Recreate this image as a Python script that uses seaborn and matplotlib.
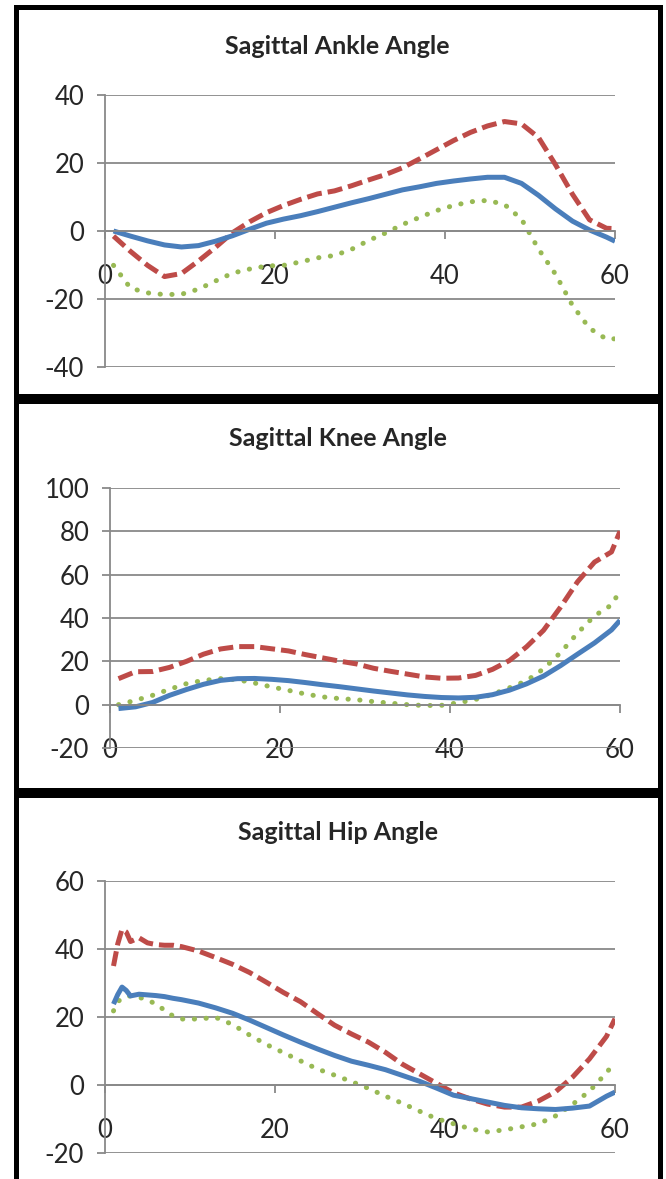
import matplotlib
matplotlib.use("Agg")
import matplotlib.pyplot as plt
from matplotlib.patches import Rectangle
import seaborn as sns

# frame numbers (x) for the ankle and knee panels, and finer ones for the hip
frames = [1, 3, 5, 7, 9, 11, 13, 15, 17, 19, 21, 23, 25, 27, 29, 31,
          33, 35, 37, 39, 41, 43, 45, 47, 49, 51, 53, 55, 57, 59, 60]
frames_hip = [1, 1.5, 2, 2.5, 3, 4, 5, 6, 7, 8, 9, 11, 13, 15, 17, 19, 21,
              23, 25, 27, 29, 31, 33, 35, 37, 39, 41, 43, 45, 47, 49, 51,
              53, 55, 57, 59, 60]

# Sagittal ankle angle
ankle_blue = [0, -1.5, -2.9, -4.1, -4.7, -4.3, -3.0, -1.4, 0.5, 2.3, 3.5, 4.5,
              5.7, 7.0, 8.3, 9.5, 10.8, 12.1, 13.0, 14.0, 14.7, 15.3, 15.8,
              15.8, 14.0, 10.5, 6.5, 2.9, 0.3, -1.8, -3.0]
ankle_red = [-1.5, -6.0, -10.1, -13.4, -12.5, -8.8, -4.8, -0.5, 2.7, 5.4, 7.5,
             9.3, 10.9, 11.8, 13.3, 15.0, 16.6, 18.6, 21.2, 23.9, 26.6, 29.0,
             30.9, 32.2, 31.5, 27.5, 19.5, 10.8, 3.3, 0.8, 0.7]
ankle_green = [-10.1, -16.8, -18.2, -18.7, -18.6, -17.1, -14.7, -12.4, -11.2,
               -10.3, -10.1, -9.1, -7.9, -7.2, -5.4, -2.8, -0.6, 1.9, 4.0, 6.0,
               7.5, 8.6, 9.0, 7.8, 3.5, -5.3, -12.7, -21.9, -28.6, -31.8, -31.7]

# Sagittal knee angle
knee_blue = [-1.8, -1.0, 1.0, 4.3, 7.0, 9.4, 11.2, 12.0, 12.1, 11.7, 11.1, 10.2,
             9.2, 8.3, 7.3, 6.3, 5.4, 4.5, 3.8, 3.3, 3.1, 3.4, 4.6, 6.7, 9.6,
             13.2, 18.0, 23.3, 28.5, 34.5, 38.9]
knee_red = [12.0, 15.2, 15.3, 17.2, 20.0, 23.3, 25.7, 26.8, 26.8, 25.8, 24.8,
            23.1, 21.6, 20.1, 18.8, 16.8, 15.4, 14.1, 12.8, 12.2, 12.3, 13.5,
            16.3, 20.4, 26.7, 34.3, 45.0, 56.7, 65.8, 70.5, 80.0]
knee_green = [0.0, 2.0, 4.3, 7.1, 9.7, 11.2, 12.0, 11.5, 10.0, 8.2, 6.6, 4.9,
              3.6, 2.8, 2.3, 1.4, 0.7, 0.0, -0.4, -0.3, 0.9, 2.4, 4.8, 7.8,
              11.0, 16.5, 24.0, 33.0, 41.0, 46.0, 52.5]

# Sagittal hip angle
hip_blue = [23.8, 26.6, 28.8, 27.8, 26.2, 26.7, 26.5, 26.3, 26.0, 25.5, 25.1,
            24.1, 22.7, 21.1, 19.1, 16.9, 14.7, 12.6, 10.6, 8.7, 7.0, 5.8, 4.5,
            2.8, 1.1, -0.9, -3.0, -4.0, -5.0, -6.0, -6.7, -7.0, -7.2, -6.8,
            -6.2, -3.3, -2.1]
hip_red = [35.0, 41.5, 45.8, 45.0, 42.2, 43.3, 41.8, 41.3, 41.1, 41.1, 40.7,
           39.4, 37.5, 35.5, 33.1, 30.2, 27.2, 24.5, 21.0, 17.6, 15.0, 12.6,
           9.6, 6.1, 3.3, 0.5, -2.3, -4.1, -5.6, -6.5, -6.5, -4.7, -2.0, 2.3,
           7.7, 14.3, 19.5]
hip_green = [21.8, 24.5, 25.5, 26.0, 26.2, 25.8, 25.0, 23.8, 22.0, 20.3, 19.4,
             19.4, 19.9, 17.8, 14.7, 11.9, 9.5, 7.1, 4.7, 2.9, 1.0, -1.0, -3.3,
             -5.4, -7.7, -9.9, -11.4, -12.9, -13.8, -13.2, -12.3, -11.4, -9.1,
             -5.7, -1.8, 3.6, 6.8]

titles = ["Sagittal Ankle Angle", "Sagittal Knee Angle", "Sagittal Hip Angle"]
y_limits = [(-40, 40), (-20, 100), (-20, 60)]
y_ticks = [[-40, -20, 0, 20, 40], [-20, 0, 20, 40, 60, 80, 100], [-20, 0, 20, 40, 60]]
x_ticks = [0, 20, 40, 60]

sns.set_style("white")
plt.rcParams["font.family"] = ["Lato", "DejaVu Sans"]
plt.rcParams["axes.unicode_minus"] = False

W, H = 666, 1179
fig = plt.figure(figsize=(W / 100, H / 100), dpi=100)

# axes boxes in pixels: left, right, top, bottom
boxes = [(105, 615, 95, 367), (110, 620, 488, 748), (105, 615, 881, 1153)]
frames_px = [(7.5, 395.5), (400.5, 789.5), (794.5, 1190)]
title_y = [47, 438, 832]

grey = "#898989"
blue, red, green = "#4A7EBB", "#BE4B48", "#98B954"

panels = [
    (frames, ankle_blue, ankle_red, ankle_green),
    (frames, knee_blue, knee_red, knee_green),
    (frames_hip, hip_blue, hip_red, hip_green),
]

for i, (xs, b, r, g) in enumerate(panels):
    l, rr, t, bt = boxes[i]
    ax = fig.add_axes([l / W, (H - bt) / H, (rr - l) / W, (bt - t) / H])

    sns.lineplot(x=xs, y=g, ax=ax, color=green, linewidth=3.6,
                 linestyle=(0, (0.05, 2.3)), dash_capstyle="round", sort=False)
    sns.lineplot(x=xs, y=r, ax=ax, color=red, linewidth=3.6,
                 linestyle=(0, (3, 1.2)), sort=False)
    sns.lineplot(x=xs, y=b, ax=ax, color=blue, linewidth=3.6,
                 solid_capstyle="butt", sort=False)

    ax.set_xlim(0, 60)
    ax.set_ylim(*y_limits[i])
    ax.set_yticks(y_ticks[i])
    ax.set_xticks(x_ticks)
    ax.set_xlabel("")
    ax.set_ylabel("")
    ax.yaxis.grid(True, color=grey, linewidth=1.3)
    ax.set_axisbelow(True)
    for s in ["top", "right"]:
        ax.spines[s].set_visible(False)
    ax.spines["left"].set_color(grey)
    ax.spines["left"].set_linewidth(1.3)
    ax.spines["bottom"].set_color(grey)
    ax.spines["bottom"].set_linewidth(1.3)
    ax.spines["bottom"].set_position(("data", 0))
    ax.tick_params(axis="y", direction="out", length=6, width=1.3,
                   color=grey, labelsize=18.5, pad=9, left=True)
    ax.tick_params(axis="x", direction="out", length=6, width=1.3,
                   color=grey, labelsize=18.5, pad=18, bottom=True)
    ax.patch.set_alpha(0)

    fig.text(337.5 / W, (H - title_y[i]) / H, titles[i], ha="center",
             va="center", fontsize=18, fontweight="bold")

    y0, y1 = frames_px[i]
    fig.add_artist(Rectangle((15.5 / W, (H - y1) / H), 644 / W, (y1 - y0) / H,
                             transform=fig.transFigure, fill=False,
                             edgecolor="black", linewidth=3.6))

fig.savefig("out.png", dpi=100)
